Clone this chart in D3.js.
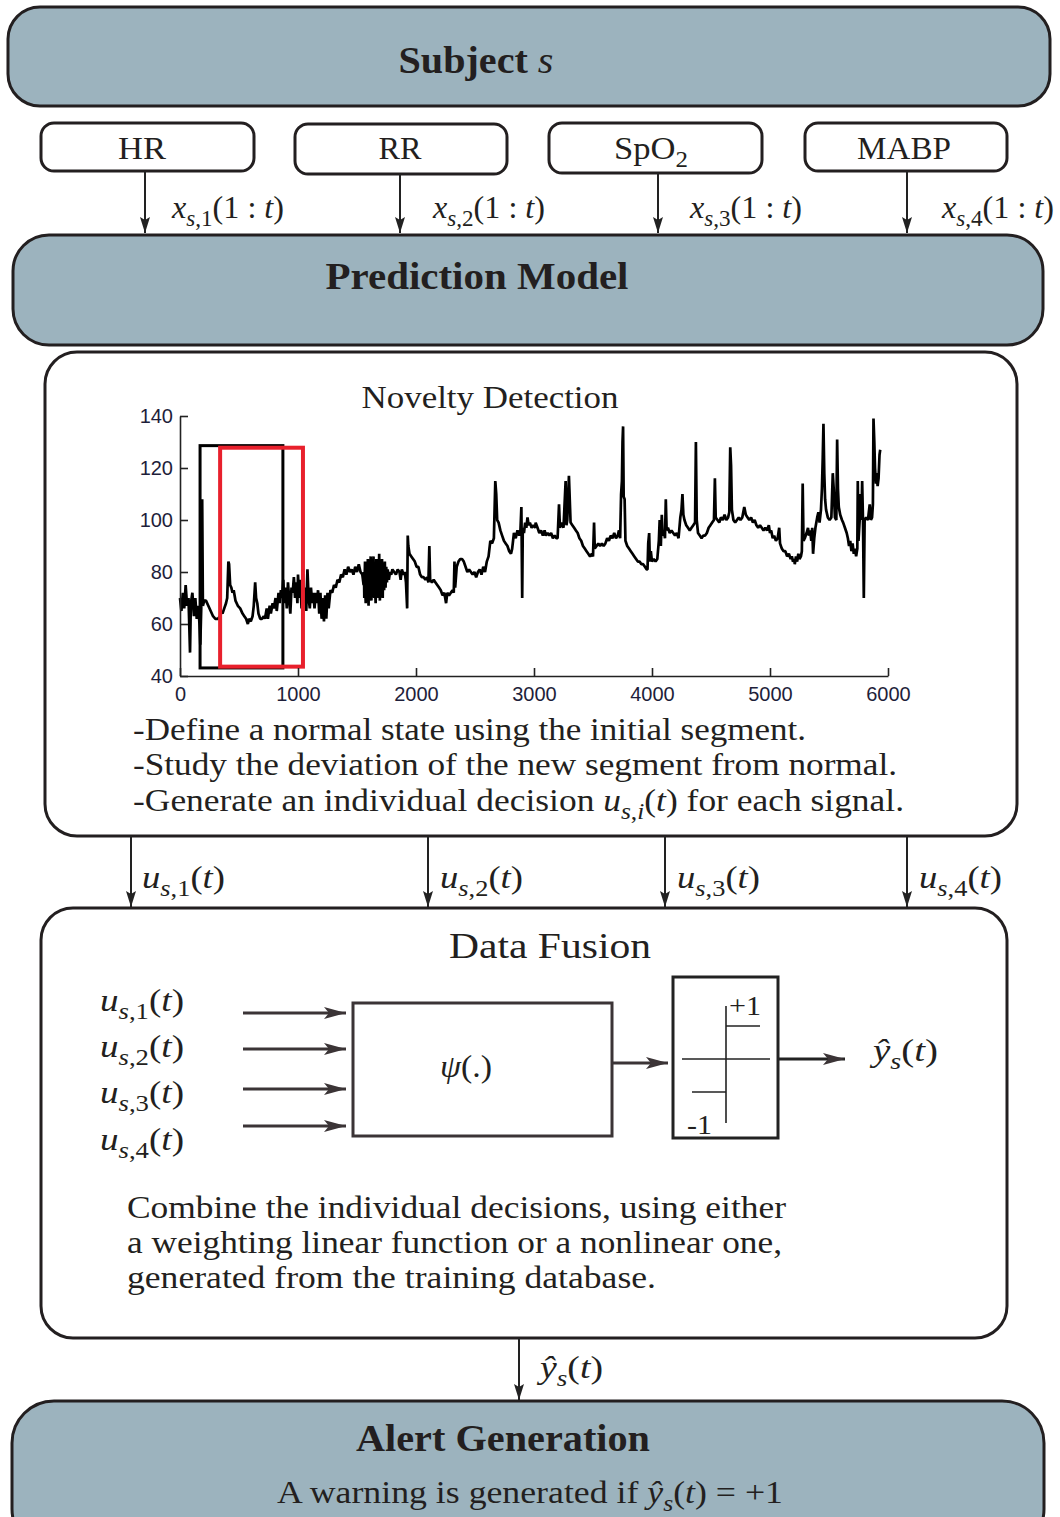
<!DOCTYPE html>
<html><head><meta charset="utf-8">
<script src="https://cdn.jsdelivr.net/npm/d3@7"></script>
<style>html,body{margin:0;padding:0;background:#fff;} svg{display:block}</style>
</head><body>
<script>
// ---------------- DATA ----------------
const signalNames = ["HR", "RR", "SpO2", "MABP"];
const yTicks = [40, 60, 80, 100, 120, 140];
const xTicks = [0, 1000, 2000, 3000, 4000, 5000, 6000];
const windowStart = [170, 340];
const windowEnd = [872, 1042];
const windowLow = [43.1, 43.6];
const windowHigh = [128.6, 127.8];
const fusionInputs = [1, 2, 3, 4];
const hrSeries = [
[0,70],[12,65],[24,72],[36,66],[48,75],[60,67],[72,70],[85,49],[92,68],[105,72],[118,63],[130,70],[142,62],[155,67],[165,60],[172,52],[180,66],[188,108],[194,67],[205,69],[220,69],[240,67],[260,65],[280,63],[300,62],[320,62],[340,63],[350,65],[360,64],[375,66],[390,68],[400,70],[410,84],[416,83],[425,75],[435,74],[445,72],[455,73],[470,69],[490,67],[510,66],[530,64],[545,63],[560,62],[575,60],[585,62],[600,61],[615,63],[625,67],[637,76],[645,70],[655,68],[665,64],[680,62],[695,62],[710,63],[720,62],[735,66],[745,62],[760,67],[770,64],[785,68],[795,66],[810,70],[820,65],[835,72],[845,68],[855,73],[865,70],[875,77],[885,68],[895,74],[905,66],[915,76],[925,70],[935,64],[945,74],[955,72],[965,78],[975,70],[985,76],[995,68],
[1000,79],[1010,70],[1020,77],[1030,66],[1040,79],[1050,68],[1060,74],[1070,65],[1080,81],[1090,70],[1100,66],[1110,74],[1120,68],[1130,72],[1140,66],[1150,72],[1160,68],[1170,73],[1180,64],[1190,72],[1200,62],[1210,70],[1220,61],[1230,71],[1240,62],[1250,72],[1260,66],[1275,73],[1290,72],[1305,75],[1320,74],[1335,77],[1350,76],[1365,79],[1380,78],[1395,81],[1410,79],[1425,82],[1440,80],[1455,81],[1470,79],[1485,82],[1500,80],[1515,83],[1530,80],[1545,79],
[1556,75],[1559,80],[1562,70],[1565,78],[1568,84],[1571,72],[1574,68],[1577,80],[1580,82],[1583,72],[1586,70],[1589,81],[1592,85],[1595,73],[1598,67],[1601,79],[1604,83],[1607,74],[1610,71],[1613,80],[1616,86],[1619,73],[1622,69],[1625,79],[1628,84],[1631,75],[1634,72],[1637,81],[1640,86],[1643,74],[1646,70],[1649,80],[1652,83],[1655,72],[1658,68],[1661,79],[1664,85],[1667,74],[1670,72],[1673,80],[1676,84],[1679,73],[1682,70],[1685,80],[1688,87],[1691,75],[1694,69],[1697,78],[1700,82],[1703,73],[1706,74],[1709,80],[1712,85],[1715,74],[1718,70],[1721,80],[1724,83],[1727,75],[1730,73],[1733,80],[1736,84],[1739,76],[1742,74],[1745,80],[1748,82],[1751,77],[1754,76],[1757,80],[1760,81],[1770,77],[1780,80],
[1790,79],[1800,81],[1815,80],[1830,79],[1845,81],[1860,80],[1870,77],[1880,81],[1895,79],[1905,80],[1915,76],[1925,66],[1930,94],[1935,90],[1945,87],[1960,86],[1975,85],[1990,84],[2005,82],[2020,82],[2035,79],[2050,78],[2065,78],[2080,77],[2095,78],[2105,76],[2113,90],[2120,77],[2135,76],[2150,77],[2165,76],[2180,75],[2195,74],[2210,73],[2225,71],[2240,72],[2255,68],[2265,72],[2280,71],[2295,72],[2310,73],[2320,72],[2326,84],[2332,74],[2345,82],[2360,84],[2375,85],[2390,85],[2405,84],[2420,82],[2435,80],[2450,81],[2465,80],[2480,79],[2495,80],[2510,78],[2525,80],[2540,81],[2555,79],[2570,82],[2585,80],[2600,84],[2615,86],[2630,92],[2645,91],[2660,93],[2672,115],[2680,110],[2688,100],[2700,99],[2715,96],[2730,94],[2745,92],[2760,91],[2775,90],[2790,88],[2805,87],[2815,89],[2830,95],[2845,93],[2860,96],[2875,94],[2885,96],[2893,105],[2900,70],[2905,97],[2915,95],[2925,99],[2935,97],[2945,101],[2955,98],[2965,99],[2980,97],[2995,98],[3010,97],
[3014,99],[3030,97],[3045,95],[3060,96],[3075,94],[3090,96],[3100,94],[3115,95],[3130,94],[3145,95],[3160,93],[3175,94],[3190,93],[3200,93],[3212,106],[3220,97],[3235,99],[3250,97],[3268,115],[3275,98],[3282,100],[3296,117],[3303,108],[3310,99],[3325,98],[3340,97],[3355,96],[3370,95],[3385,93],[3400,92],[3415,90],[3430,89],[3445,88],[3460,87],[3475,86],[3490,87],[3500,86],[3509,99],[3515,89],[3530,90],[3545,91],[3560,90],[3575,91],[3590,90],[3605,91],[3620,93],[3635,92],[3650,94],[3665,93],[3680,95],[3695,93],[3710,94],[3720,96],[3730,93],[3738,110],[3745,115],[3750,130],[3755,136],[3760,109],[3768,108],[3775,92],[3790,90],[3805,89],[3820,88],[3835,87],[3850,86],[3865,85],[3880,84],[3895,84],[3910,83],[3925,83],[3940,82],[3955,81],[3962,81],[3968,91],[3976,95],[3982,84],[3990,88],[4000,84],[4015,85],[4030,84],[4045,85],[4058,92],[4065,100],[4075,90],[4083,102],[4090,94],[4100,96],[4110,93],[4117,108],[4124,96],[4135,97],[4150,95],[4165,96],[4180,95],[4195,94],[4210,95],[4225,93],[4240,101],[4250,104],[4258,110],[4266,102],[4275,100],[4290,98],[4305,97],[4320,96],[4335,97],[4350,98],[4365,99],[4372,130],[4379,100],[4390,95],[4405,94],[4420,93],[4435,94],[4450,94],[4465,95],[4480,97],[4495,98],[4510,99],[4525,100],[4533,116],[4540,101],
[4555,100],[4570,99],[4584,101],[4600,100],[4615,102],[4630,100],[4645,101],[4655,103],[4663,128],[4670,121],[4677,104],[4690,100],[4705,99],[4720,100],[4735,101],[4750,100],[4765,101],[4782,105],[4795,102],[4810,101],[4825,100],[4840,101],[4855,99],[4870,100],[4885,98],[4900,97],[4915,98],[4930,97],[4945,96],[4960,97],[4975,96],[4990,98],[5000,95],[5010,96],[5023,93],[5035,94],[5050,92],[5065,93],[5078,97],[5085,91],[5100,89],[5115,88],[5130,88],[5145,86],[5160,87],[5175,85],[5185,86],[5195,84],[5205,85],[5210,83],[5220,86],[5230,84],[5240,87],[5250,85],[5262,86],[5270,88],[5277,114],[5284,92],[5295,93],[5310,95],[5322,97],[5330,94],[5340,96],[5350,92],[5358,97],[5365,87],[5375,93],[5385,97],[5400,101],[5410,103],[5420,99],[5432,104],[5440,112],[5447,124],[5453,137],[5460,118],[5467,108],[5475,104],[5490,101],[5505,100],[5520,101],[5532,118],[5540,112],[5550,101],[5562,100],[5569,131],[5576,112],[5583,105],[5595,102],[5610,100],[5620,99],[5635,97],[5650,95],[5660,93],[5670,90],[5680,92],[5690,88],[5700,91],[5710,87],[5720,89],[5730,86],[5740,89],[5744,115],[5750,92],[5760,100],[5768,110],[5775,100],[5781,115],[5788,100],[5795,70],[5802,100],[5815,101],[5830,100],[5845,106],[5855,100],[5865,101],[5872,106],[5877,139],[5884,130],[5890,120],[5898,114],[5905,118],[5912,113],[5920,116],[5928,125],[5934,127]
];
const noveltyLines = [
  "-Define a normal state using the initial segment.",
  "-Study the deviation of the new segment from normal."
];
const fusionLines = [
  "Combine the individual decisions, using either",
  "a weighting linear function or a nonlinear one,",
  "generated from the training database."
];

// ---------------- STYLE ----------------
const W = 1060, H = 1517;
const SERIF = "'Liberation Serif','Times New Roman',serif";
const SANS = "'Liberation Sans',Arial,sans-serif";
const INK = "#231f20";
const BLUE = "#9cb3be";
const STROKE = "#231f20";

const svg = d3.select("body").append("svg").attr("width", W).attr("height", H);
const defs = svg.append("defs");
defs.append("marker").attr("id", "ah").attr("viewBox", "0 0 16 10").attr("refX", 16).attr("refY", 5)
  .attr("markerWidth", 16).attr("markerHeight", 10).attr("markerUnits", "userSpaceOnUse").attr("orient", "auto")
  .append("path").attr("d", "M0,0 L16,5 L0,10 L3,5 Z").attr("fill", "#222");
defs.append("marker").attr("id", "ah2").attr("viewBox", "0 0 22 12").attr("refX", 22).attr("refY", 6)
  .attr("markerWidth", 22).attr("markerHeight", 12).attr("markerUnits", "userSpaceOnUse").attr("orient", "auto")
  .append("path").attr("d", "M0,0 L22,6 L0,12 L5,6 Z").attr("fill", "#3b3436");

function box(x, y, w, h, r, fill, sw) {
  svg.append("rect").attr("x", x).attr("y", y).attr("width", w).attr("height", h)
    .attr("rx", r).attr("ry", r).attr("fill", fill).attr("stroke", STROKE).attr("stroke-width", sw || 3);
}
function arrow(x1, y1, x2, y2, marker, color, sw) {
  svg.append("line").attr("x1", x1).attr("y1", y1).attr("x2", x2).attr("y2", y2)
    .attr("stroke", color || "#222").attr("stroke-width", sw || 2).attr("marker-end", `url(#${marker || "ah"})`);
}
// rich text: parts {t, i (italic), sub, w}
function rich(x, y, parts, size, anchor, weight, len) {
  const t = svg.append("text").attr("x", x).attr("y", y).attr("font-size", size)
    .attr("font-family", SERIF).attr("fill", INK).attr("text-anchor", anchor || "start");
  if (weight) t.attr("font-weight", weight);
  let shifted = 0;
  parts.forEach(p => {
    const ts = t.append("tspan").text(p.t);
    if (p.i) ts.attr("font-style", "italic");
    if (p.w) ts.attr("font-weight", p.w);
    const target = p.sub ? size * 0.25 : 0;
    if (target !== shifted) { ts.attr("dy", target - shifted); shifted = target; }
    if (p.sub) ts.attr("font-size", size * 0.72);
  });
  if (len) t.attr("textLength", len).attr("lengthAdjust", "spacingAndGlyphs");
  return t;
}
function plain(x, y, s, size, anchor, weight, len) {
  const t = svg.append("text").attr("x", x).attr("y", y).attr("font-size", size)
    .attr("font-family", SERIF).attr("fill", INK).attr("text-anchor", anchor || "start").text(s);
  if (weight) t.attr("font-weight", weight);
  if (len) t.attr("textLength", len).attr("lengthAdjust", "spacingAndGlyphs");
  return t;
}
const uLabel = k => [{t: "u", i: 1}, {t: "s", i: 1, sub: 1}, {t: "," + k, sub: 1}, {t: "("}, {t: "t", i: 1}, {t: ")"}];
const xLabel = k => [{t: "x", i: 1}, {t: "s", i: 1, sub: 1}, {t: "," + k, sub: 1}, {t: "(1 : "}, {t: "t", i: 1}, {t: ")"}];
const yHat = [{t: "ŷ", i: 1}, {t: "s", i: 1, sub: 1}, {t: "("}, {t: "t", i: 1}, {t: ")"}];

// ---------------- SUBJECT ----------------
box(8, 7, 1042, 99, 32, BLUE);
rich(476, 73, [{t: "Subject "}, {t: "s", i: 1, w: "normal"}], 37, "middle", "bold", 155);

// ---------------- SIGNAL BOXES ----------------
const sigBoxes = [[41, 123, 213, 48], [295, 124, 212, 50], [549, 123, 213, 50], [805, 123, 202, 48]];
const sigTextX = [142, 400, 651, 904];
const sigTextW = [48, 43, 74, 94];
const sigArrowX = [145, 400, 658, 907];
const sigLabelX = [172, 433, 690, 942];
signalNames.forEach((n, i) => {
  const b = sigBoxes[i];
  box(b[0], b[1], b[2], b[3], 13, "#fff");
  if (n === "SpO2") rich(sigTextX[i], 159, [{t: "SpO"}, {t: "2", sub: 1}], 32, "middle", null, sigTextW[i]);
  else rich(sigTextX[i], 159, [{t: n}], 32, "middle", null, sigTextW[i]);
  arrow(sigArrowX[i], b[1] + b[3], sigArrowX[i], 233);
  rich(sigLabelX[i], 218, xLabel(i + 1), 32, "start", null, 112);
});

// ---------------- PREDICTION MODEL ----------------
box(13, 235, 1030, 110, 36, BLUE);
rich(477, 289, [{t: "Prediction Model"}], 37, "middle", "bold", 303);

// ---------------- NOVELTY DETECTION ----------------
box(45, 352, 972, 484, 32, "#fff");
plain(490, 408, "Novelty Detection", 31, "middle", null, 257);

const x = d3.scaleLinear().domain([0, 6000]).range([180, 888]);
const y = d3.scaleLinear().domain([40, 140]).range([676, 416]);
const chart = svg.append("g");

const line = d3.line().x(d => x(d[0])).y(d => y(d[1]));
chart.append("path").datum(hrSeries).attr("d", line).attr("fill", "none")
  .attr("stroke", "#000").attr("stroke-width", 2.7).attr("stroke-linejoin", "bevel");

const winColors = ["#000", "#e8202c"];
const winWidths = [3, 4];
windowStart.forEach((s, i) => {
  chart.append("rect").attr("x", x(s)).attr("y", y(windowHigh[i]))
    .attr("width", x(windowEnd[i]) - x(s)).attr("height", y(windowLow[i]) - y(windowHigh[i]))
    .attr("fill", "none").attr("stroke", winColors[i]).attr("stroke-width", winWidths[i]);
});

const ax = chart.append("g").attr("transform", "translate(0,676)")
  .call(d3.axisBottom(x).tickValues(xTicks).tickFormat(d3.format("d")).tickSize(-8).tickSizeOuter(0).tickPadding(21));
const ay = chart.append("g").attr("transform", "translate(180,0)")
  .call(d3.axisLeft(y).tickValues(yTicks).tickFormat(d3.format("d")).tickSize(-8).tickSizeOuter(0).tickPadding(7));
[ax, ay].forEach(a => {
  a.select(".domain").attr("stroke", "#222").attr("stroke-width", 1.6);
  a.selectAll(".tick line").attr("stroke", "#222").attr("stroke-width", 1.6);
  a.selectAll(".tick text").attr("font-family", SANS).attr("font-size", 20).attr("fill", "#1e1e3a");
});
ax.selectAll(".tick text").attr("dy", "0.2em");

plain(133, 740, noveltyLines[0], 31, "start", null, 673);
plain(133, 775, noveltyLines[1], 31, "start", null, 764);
rich(133, 811, [{t: "-Generate an individual decision "}, {t: "u", i: 1}, {t: "s", i: 1, sub: 1}, {t: ",", sub: 1}, {t: "i", i: 1, sub: 1},
  {t: "("}, {t: "t", i: 1}, {t: ") for each signal."}], 31, "start", null, 771);

// ---------------- ARROWS TO FUSION ----------------
const uArrowX = [131, 428, 665, 907];
const uLabelX = [142, 440, 677, 919];
fusionInputs.forEach((k, i) => {
  arrow(uArrowX[i], 836, uArrowX[i], 907);
  rich(uLabelX[i], 888, uLabel(k), 32, "start", null, 83);
});

// ---------------- DATA FUSION ----------------
box(41, 908, 966, 430, 32, "#fff");
plain(550, 958, "Data Fusion", 35, "middle", null, 202);

const inY = [1013, 1049, 1089, 1126];
const inLabelY = [1011, 1057, 1103, 1150];
fusionInputs.forEach((k, i) => {
  rich(100, inLabelY[i], uLabel(k), 32, "start", null, 84);
  arrow(243, inY[i], 346, inY[i], "ah2", "#3b3436", 3);
});
svg.append("rect").attr("x", 353).attr("y", 1003).attr("width", 259).attr("height", 133)
  .attr("fill", "#fff").attr("stroke", "#3b3436").attr("stroke-width", 3);
rich(466, 1077, [{t: "ψ", i: 1}, {t: "(.)"}], 32, "middle", null, 52);
arrow(612, 1063, 668, 1063, "ah2", "#3b3436", 3);

svg.append("rect").attr("x", 673).attr("y", 977).attr("width", 105).attr("height", 161)
  .attr("fill", "#fff").attr("stroke", "#222").attr("stroke-width", 3);
const stepG = svg.append("g").attr("stroke", "#222").attr("stroke-width", 1.6);
stepG.append("line").attr("x1", 682).attr("y1", 1059).attr("x2", 770).attr("y2", 1059);
stepG.append("line").attr("x1", 726).attr("y1", 1006).attr("x2", 726).attr("y2", 1123);
stepG.append("line").attr("x1", 726).attr("y1", 1026).attr("x2", 760).attr("y2", 1026);
stepG.append("line").attr("x1", 692).attr("y1", 1092).attr("x2", 726).attr("y2", 1092);
plain(729, 1015, "+1", 28, "start", null, 32);
plain(687, 1134, "-1", 28, "start", null, 25);
arrow(778, 1059, 845, 1059, "ah2", "#222", 3);
rich(873, 1061, yHat, 32, "start", null, 65);

fusionLines.forEach((s, i) => plain(127, 1218 + i * 35, s, 31, "start", null, [659, 655, 529][i]));

// ---------------- ALERT ----------------
arrow(519, 1338, 519, 1400);
rich(540, 1378, yHat, 32, "start", null, 63);
box(12, 1401, 1032, 150, 42, BLUE);
rich(503, 1451, [{t: "Alert Generation"}], 37, "middle", "bold", 294);
rich(530, 1503, [{t: "A warning is generated if "}, {t: "ŷ", i: 1}, {t: "s", i: 1, sub: 1}, {t: "("}, {t: "t", i: 1}, {t: ")"}, {t: " = +1"}], 31, "middle", null, 506);
</script>
</body></html>
